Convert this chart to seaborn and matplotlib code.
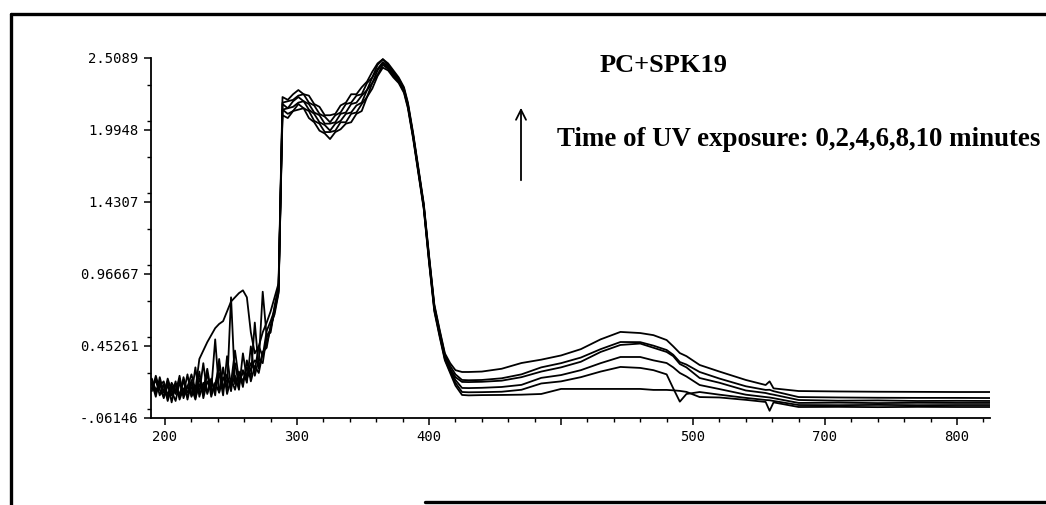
import matplotlib
matplotlib.use("Agg")
import numpy as np
import pandas as pd
import matplotlib.pyplot as plt
import seaborn as sns
from matplotlib.lines import Line2D
from matplotlib.ticker import FixedLocator, MultipleLocator

# UV-Vis spectra of PC+SPK19 after 0..10 min UV exposure
wavelength = (
    [190, 193, 196, 199, 202, 205, 208, 211, 214, 217, 220, 223, 226, 229, 232, 235, 238,
     241, 244, 247, 250, 253, 256, 259, 262, 265, 268, 271, 274, 277, 280, 283, 286]
    + [289, 293, 297, 301, 305, 309, 313, 317, 321, 325, 329, 333, 337, 341, 345, 349,
       353, 357, 361, 365, 369, 373, 377, 381]
    + [384, 388, 392, 396, 400, 404, 408, 412, 416, 420, 425]
    + [430, 440, 455, 470, 485, 500, 515, 530, 545, 560, 570, 580, 585, 590, 595, 605,
       620, 640, 655, 658, 661, 680, 710, 740, 770, 800, 825]
)

abs_0min = (
    [.22, .12, .19, .08, .17, .10, .20, .07, .15, .09, .21, .08, .18, .11, .26, .09, .19,
     .12, .30, .11, .22, .14, .27, .16, .35, .20, .31, .26, .40, .47, .58, .70, .84]
    + [2.10, 2.08, 2.13, 2.14, 2.15, 2.08, 2.05, 1.99, 1.97, 1.93, 1.98, 2.00, 2.04, 2.05,
       2.11, 2.13, 2.23, 2.29, 2.38, 2.44, 2.42, 2.37, 2.33, 2.26]
    + [2.15, 1.93, 1.68, 1.43, 1.05, .70, .52, .35, .26, .17, .103]
    + [.100, .102, .103, .105, .110, .146, .146, .146, .146, .146, .139, .139, .136, .132,
       .125, .088, .085, .068, .053, -.010, .050, .017, .018, .016, .018, .017, .017]
)
abs_2min = (
    [.15, .21, .10, .18, .06, .16, .11, .24, .08, .17, .10, .30, .09, .19, .12, .22, .10,
     .36, .14, .25, .13, .33, .17, .28, .19, .45, .24, .36, .33, .52, .55, .72, .86]
    + [2.14, 2.11, 2.13, 2.18, 2.15, 2.13, 2.06, 2.04, 1.98, 1.98, 1.99, 2.05, 2.05, 2.11,
       2.12, 2.18, 2.23, 2.33, 2.39, 2.46, 2.43, 2.38, 2.34, 2.27]
    + [2.16, 1.94, 1.69, 1.44, 1.06, .71, .53, .36, .27, .19, .124]
    + [.122, .123, .126, .140, .185, .200, .230, .270, .303, .296, .280, .250, .150, .055,
       .110, .124, .105, .082, .067, .065, .060, .031, .030, .032, .030, .031, .031]
)
abs_4min = (
    [.19, .09, .23, .12, .20, .05, .18, .10, .21, .07, .19, .11, .27, .08, .20, .14, .50,
     .12, .23, .15, .80, .18, .26, .20, .30, .23, .62, .29, .41, .44, .60, .68, .83]
    + [2.14, 2.15, 2.16, 2.19, 2.20, 2.14, 2.11, 2.05, 2.03, 1.99, 2.04, 2.06, 2.11, 2.12,
       2.17, 2.19, 2.28, 2.33, 2.42, 2.47, 2.44, 2.39, 2.35, 2.28]
    + [2.17, 1.95, 1.70, 1.45, 1.07, .72, .54, .37, .28, .21, .153]
    + [.152, .154, .160, .175, .225, .245, .280, .330, .374, .374, .350, .331, .300, .260,
       .235, .174, .145, .105, .088, .085, .080, .046, .048, .045, .047, .046, .046]
)
abs_6min = (
    [.13, .24, .14, .09, .22, .13, .06, .19, .11, .25, .09, .16, .12, .33, .11, .21, .13,
     .26, .10, .38, .16, .24, .14, .40, .22, .29, .35, .33, .84, .52, .57, .74, .88]
    + [2.18, 2.15, 2.20, 2.23, 2.20, 2.18, 2.12, 2.10, 2.04, 2.04, 2.05, 2.11, 2.12, 2.18,
       2.19, 2.24, 2.28, 2.37, 2.43, 2.48, 2.45, 2.40, 2.35, 2.28]
    + [2.17, 1.95, 1.70, 1.45, 1.08, .73, .55, .38, .29, .23, .196]
    + [.195, .197, .205, .230, .270, .300, .340, .410, .460, .470, .440, .410, .380, .324,
       .300, .224, .190, .135, .117, .110, .105, .067, .062, .064, .060, .061, .060]
)
abs_8min = (
    [.21, .14, .17, .20, .10, .19, .14, .09, .23, .12, .16, .07, .22, .14, .29, .12, .18,
     .31, .15, .21, .19, .42, .21, .26, .24, .33, .28, .45, .38, .56, .63, .71, .85]
    + [2.19, 2.20, 2.21, 2.24, 2.25, 2.19, 2.17, 2.11, 2.09, 2.05, 2.10, 2.12, 2.18, 2.19,
       2.24, 2.25, 2.33, 2.37, 2.46, 2.50, 2.46, 2.41, 2.36, 2.29]
    + [2.18, 1.96, 1.71, 1.46, 1.09, .74, .56, .39, .31, .25, .210]
    + [.208, .210, .222, .250, .300, .330, .370, .430, .481, .480, .455, .424, .390, .338,
       .320, .267, .220, .165, .139, .140, .130, .088, .085, .083, .082, .082, .081]
)
abs_10min = (
    [.18, .11, .20, .13, .09, .17, .12, .22, .10, .16, .25, .14, .36, .42, .48, .53, .58,
     .61, .63, .70, .77, .80, .83, .85, .80, .55, .40, .45, .55, .62, .70, .80, .90]
    + [2.23, 2.21, 2.25, 2.28, 2.25, 2.24, 2.18, 2.16, 2.10, 2.10, 2.11, 2.17, 2.19, 2.25,
       2.25, 2.30, 2.34, 2.41, 2.47, 2.50, 2.47, 2.42, 2.37, 2.30]
    + [2.19, 1.97, 1.72, 1.47, 1.10, .75, .57, .40, .33, .28, .267]
    + [.267, .270, .290, .331, .355, .385, .430, .500, .553, .545, .530, .495, .450, .402,
       .380, .317, .270, .210, .174, .200, .150, .131, .128, .126, .125, .124, .124]
)

exposure_min = [0, 2, 4, 6, 8, 10]
spectra = [abs_0min, abs_2min, abs_4min, abs_6min, abs_8min, abs_10min]

y_tick_pos = [-0.06146, 0.45261, 0.96668, 1.48075, 1.99482, 2.50889]
y_tick_labels = ["-.06146", "0.45261", "0.96667", "1.4307", "1.9948", "2.5089"]
x_tick_pos = [200, 300, 400, 500, 600, 700, 800]
x_tick_labels = ["200", "300", "400", "", "500", "700", "800"]

df = pd.concat(
    [pd.DataFrame({"wavelength": wavelength, "absorbance": a, "time": t})
     for t, a in zip(exposure_min, spectra)],
    ignore_index=True,
)

sns.set_style("ticks")
plt.rcParams["font.family"] = ["DejaVu Sans Mono", "DejaVu Sans"]
plt.rcParams["text.color"] = "black"

fig = plt.figure(figsize=(10.46, 5.05), dpi=100)
ax = fig.add_axes([0.1444, 0.1723, 0.8021, 0.7129])

sns.lineplot(data=df, x="wavelength", y="absorbance", units="time",
             estimator=None, color="black", lw=1.3, ax=ax, legend=False)

ax.set_xlim(189.4, 825)
ax.set_ylim(-0.06146, 2.5089)
sns.despine(ax=ax)
for s in ["left", "bottom"]:
    ax.spines[s].set_linewidth(1.3)
    ax.spines[s].set_color("black")

ax.yaxis.set_major_locator(FixedLocator(y_tick_pos))
ax.set_yticklabels(y_tick_labels)
ax.yaxis.set_minor_locator(MultipleLocator(0.51407 / 2))
ax.xaxis.set_major_locator(FixedLocator(x_tick_pos))
ax.set_xticklabels(x_tick_labels)
ax.xaxis.set_minor_locator(MultipleLocator(20))
ax.tick_params(which="major", length=5, width=1.1, color="black",
               labelsize=10, labelcolor="black", pad=4)
ax.tick_params(which="minor", length=3, width=1.0, color="black")
ax.set_xlabel("")
ax.set_ylabel("")

serif = ["Liberation Serif", "DejaVu Serif"]
fig.text(0.634, 0.871, "PC+SPK19", ha="center", va="center",
         fontsize=19, fontweight="bold", family=serif, color="black")
fig.text(0.5325, 0.723, "Time of UV exposure: 0,2,4,6,8,10 minutes", ha="left",
         va="center", fontsize=19.4, fontweight="bold", family=serif, color="black")
ax.annotate("", xy=(521, 400), xycoords="figure pixels",
            xytext=(521, 322), textcoords="figure pixels",
            arrowprops=dict(arrowstyle="->", lw=1.3, color="black",
                            mutation_scale=18))

# scanned page frame
for xs, ys in [([0.0105, 0.0105], [0.0, 0.9723]),
               ([0.0105, 1.0], [0.9723, 0.9723]),
               ([0.406, 1.0], [0.006, 0.006])]:
    fig.add_artist(Line2D(xs, ys, transform=fig.transFigure, lw=2.4, color="black"))

fig.savefig("out.png", dpi=100)
